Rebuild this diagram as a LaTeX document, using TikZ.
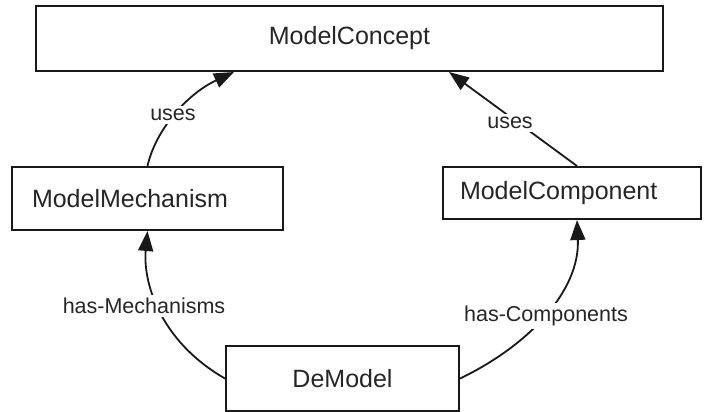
\documentclass[tikz,border=0pt]{standalone}
\usepackage{fontspec}
\setmainfont{Liberation Sans}
\usetikzlibrary{arrows.meta,calc}
\begin{document}
\begin{tikzpicture}[x=1pt,y=-1pt,
  box/.style={draw=black!90,line width=2pt,fill=white,inner sep=0pt,
    font=\fontsize{25}{28}\selectfont,text=black!85},
  lbl/.style={fill=white,inner sep=3pt,font=\fontsize{21.5}{24}\selectfont,text=black!85},
  conn/.style={line width=1.8pt,black!90,-{Triangle[length=20pt,width=15pt]}}]
\useasboundingbox (0,0) rectangle (704,412);
\node[box,minimum width=627pt,minimum height=65pt] (MC) at (349.5,38.5) {ModelConcept};
\node[box,minimum width=271pt,minimum height=63pt,text width=231pt,align=left,inner xsep=20pt] (MM) at (147.5,198.5) {ModelMechanism};
\node[box,minimum width=258pt,minimum height=52pt,text width=224pt,align=left,inner xsep=17pt] (MCo) at (572,193) {ModelComponent};
\node[box,minimum width=233pt,minimum height=65pt] (DM) at (342.5,378.5) {DeModel};
\coordinate (mcL) at ($(MC.south west)+(199,0)$);
\coordinate (mcR) at ($(MC.south west)+(414,0)$);
\coordinate (coT) at ($(MCo.north west)+(135,0)$);
\coordinate (coB) at ($(MCo.south west)+(135,0)$);
\draw[conn] (MM.north) .. controls (155,132) and (185,95) .. (mcL);
\draw[conn] (coT) -- (mcR);
\draw[conn] (DM.west) .. controls (158,340) and (143,280) .. (MM.south);
\draw[conn] (DM.east) .. controls (530,345) and (580,290) .. (coB);
\node[lbl] (u1) at (173,115) {uses};
\node[lbl] (u2) at (510,123) {uses};
\node[lbl] (hm) at (144,306) {has-Mechanisms};
\node[lbl] (hc) at (546,316) {has-Components};
\end{tikzpicture}
\end{document}
